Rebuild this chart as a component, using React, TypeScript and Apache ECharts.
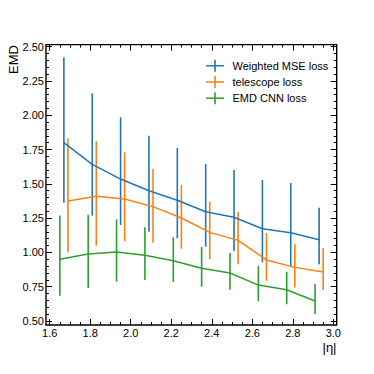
import React, { useEffect, useRef } from "react";
import * as echarts from "echarts";

const seriesNames = ["Weighted MSE loss", "telescope loss", "EMD CNN loss"];
const colors = ["#1f77b4", "#ff7f0e", "#2ca02c"];

const blueX = [1.67, 1.81, 1.95, 2.09, 2.23, 2.37, 2.51, 2.65, 2.79, 2.93];
const blueY = [1.8, 1.642, 1.535, 1.45, 1.38, 1.297, 1.256, 1.173, 1.144, 1.093];
const blueLo = [1.363, 1.268, 1.2, 1.151, 1.103, 1.042, 1.01, 0.928, 0.901, 0.913];
const blueHi = [2.422, 2.16, 1.985, 1.85, 1.762, 1.645, 1.601, 1.528, 1.506, 1.326];

const orangeX = [1.69, 1.83, 1.97, 2.11, 2.25, 2.39, 2.53, 2.67, 2.81, 2.95];
const orangeY = [1.375, 1.409, 1.389, 1.334, 1.251, 1.146, 1.088, 0.945, 0.891, 0.857];
const orangeLo = [1.001, 1.049, 1.081, 1.071, 1.027, 0.952, 0.913, 0.794, 0.745, 0.726];
const orangeHi = [1.832, 1.81, 1.73, 1.608, 1.491, 1.368, 1.295, 1.142, 1.064, 1.03];

const greenX = [1.65, 1.79, 1.93, 2.07, 2.21, 2.35, 2.49, 2.63, 2.77, 2.91];
const greenY = [0.95, 0.989, 1.003, 0.979, 0.94, 0.884, 0.85, 0.762, 0.728, 0.646];
const greenLo = [0.685, 0.741, 0.787, 0.799, 0.784, 0.75, 0.728, 0.646, 0.622, 0.551];
const greenHi = [1.27, 1.275, 1.241, 1.183, 1.11, 1.04, 0.995, 0.903, 0.859, 0.77];

const allX = [blueX, orangeX, greenX];
const allY = [blueY, orangeY, greenY];
const allLo = [blueLo, orangeLo, greenLo];
const allHi = [blueHi, orangeHi, greenHi];

const FONT = "Liberation Sans";

export default function App() {
  const ref = useRef<HTMLDivElement>(null);
  useEffect(() => {
    document.body.style.margin = "0";
    const chart = echarts.init(ref.current!, null, { renderer: "svg" });

    const series: any[] = [];
    for (let s = 0; s < 3; s++) {
      const color = colors[s];
      series.push({
        name: seriesNames[s],
        type: "custom",
        clip: false,
        itemStyle: { color },
        data: allX[s].map((x, i) => [x, allLo[s][i], allHi[s][i]]),
        encode: { x: 0, y: [1, 2] },
        renderItem: (params: any, api: any) => {
          const x = api.value(0);
          const p1 = api.coord([x, api.value(1)]);
          const p2 = api.coord([x, api.value(2)]);
          return {
            type: "line",
            shape: { x1: p1[0], y1: p1[1], x2: p2[0], y2: p2[1] },
            style: { stroke: color, lineWidth: 1.6 },
          };
        },
      });
      series.push({
        name: seriesNames[s],
        type: "line",
        symbol: "none",
        color,
        lineStyle: { color, width: 1.5 },
        data: allX[s].map((x, i) => [x, allY[s][i]]),
      });
    }

    const tickCommon = {
      axisLine: { show: false },
      splitLine: { show: false },
      axisTick: { show: true, inside: true, length: 6, lineStyle: { color: "#000", width: 1 } },
      minorTick: { show: true, length: 3, lineStyle: { color: "#000", width: 1 } },
    };

    const iconPath = "path://M0,5.2H18V6.8H0Z M8.2,0H9.8V12H8.2Z";

    chart.setOption({
      animation: false,
      backgroundColor: "#fff",
      grid: { left: 49.7, right: 40.7, top: 46.7, bottom: 53 },
      xAxis: [
        {
          type: "value",
          position: "bottom",
          min: 1.6,
          max: 3.0,
          interval: 0.2,
          offset: 4,
          ...tickCommon,
          minorTick: { ...tickCommon.minorTick, splitNumber: 4 },
          axisLabel: {
            show: true,
            margin: 2.5,
            fontFamily: FONT,
            fontSize: 11,
            color: "#000",
            formatter: (v: number) => v.toFixed(1),
          },
        },
        {
          type: "value",
          position: "top",
          min: 1.6,
          max: 3.0,
          interval: 0.2,
          offset: 2.1,
          ...tickCommon,
          minorTick: { ...tickCommon.minorTick, splitNumber: 4 },
          axisLabel: { show: false },
        },
      ],
      yAxis: [
        {
          type: "value",
          position: "left",
          min: 0.5,
          max: 2.5,
          interval: 0.25,
          offset: 3.7,
          ...tickCommon,
          minorTick: { ...tickCommon.minorTick, splitNumber: 5 },
          axisLabel: {
            show: true,
            margin: 2,
            fontFamily: FONT,
            fontSize: 11,
            color: "#000",
            formatter: (v: number) => v.toFixed(2),
          },
        },
        {
          type: "value",
          position: "right",
          min: 0.5,
          max: 2.5,
          interval: 0.25,
          offset: 3.4,
          ...tickCommon,
          minorTick: { ...tickCommon.minorTick, splitNumber: 5 },
          axisLabel: { show: false },
        },
      ],
      legend: {
        orient: "vertical",
        left: 201,
        top: 54.7,
        itemWidth: 18,
        itemHeight: 12,
        itemGap: 4.3,
        selectedMode: false,
        textStyle: { fontFamily: FONT, fontSize: 11, color: "#000", padding: [0, 0, 0, 3.5] },
        data: seriesNames.map((n) => ({ name: n, icon: iconPath })),
      },
      graphic: [
        {
          type: "rect",
          z: 100,
          shape: { x: 46, y: 44.6, width: 290.7, height: 280.4 },
          style: { fill: "none", stroke: "#000", lineWidth: 1.4 },
        },
        {
          type: "text",
          x: 13,
          y: 45,
          rotation: Math.PI / 2,
          style: {
            text: "EMD",
            fontFamily: FONT,
            fontSize: 13,
            fill: "#000",
            align: "right",
            verticalAlign: "middle",
          },
        },
        {
          type: "text",
          x: 336.5,
          y: 347.5,
          style: {
            text: "|η|",
            fontFamily: FONT,
            fontSize: 13,
            fill: "#000",
            align: "right",
            verticalAlign: "middle",
          },
        },
      ],
      series,
    });
    return () => chart.dispose();
  }, []);
  return <div ref={ref} style={{ width: 374, height: 374 }} />;
}
